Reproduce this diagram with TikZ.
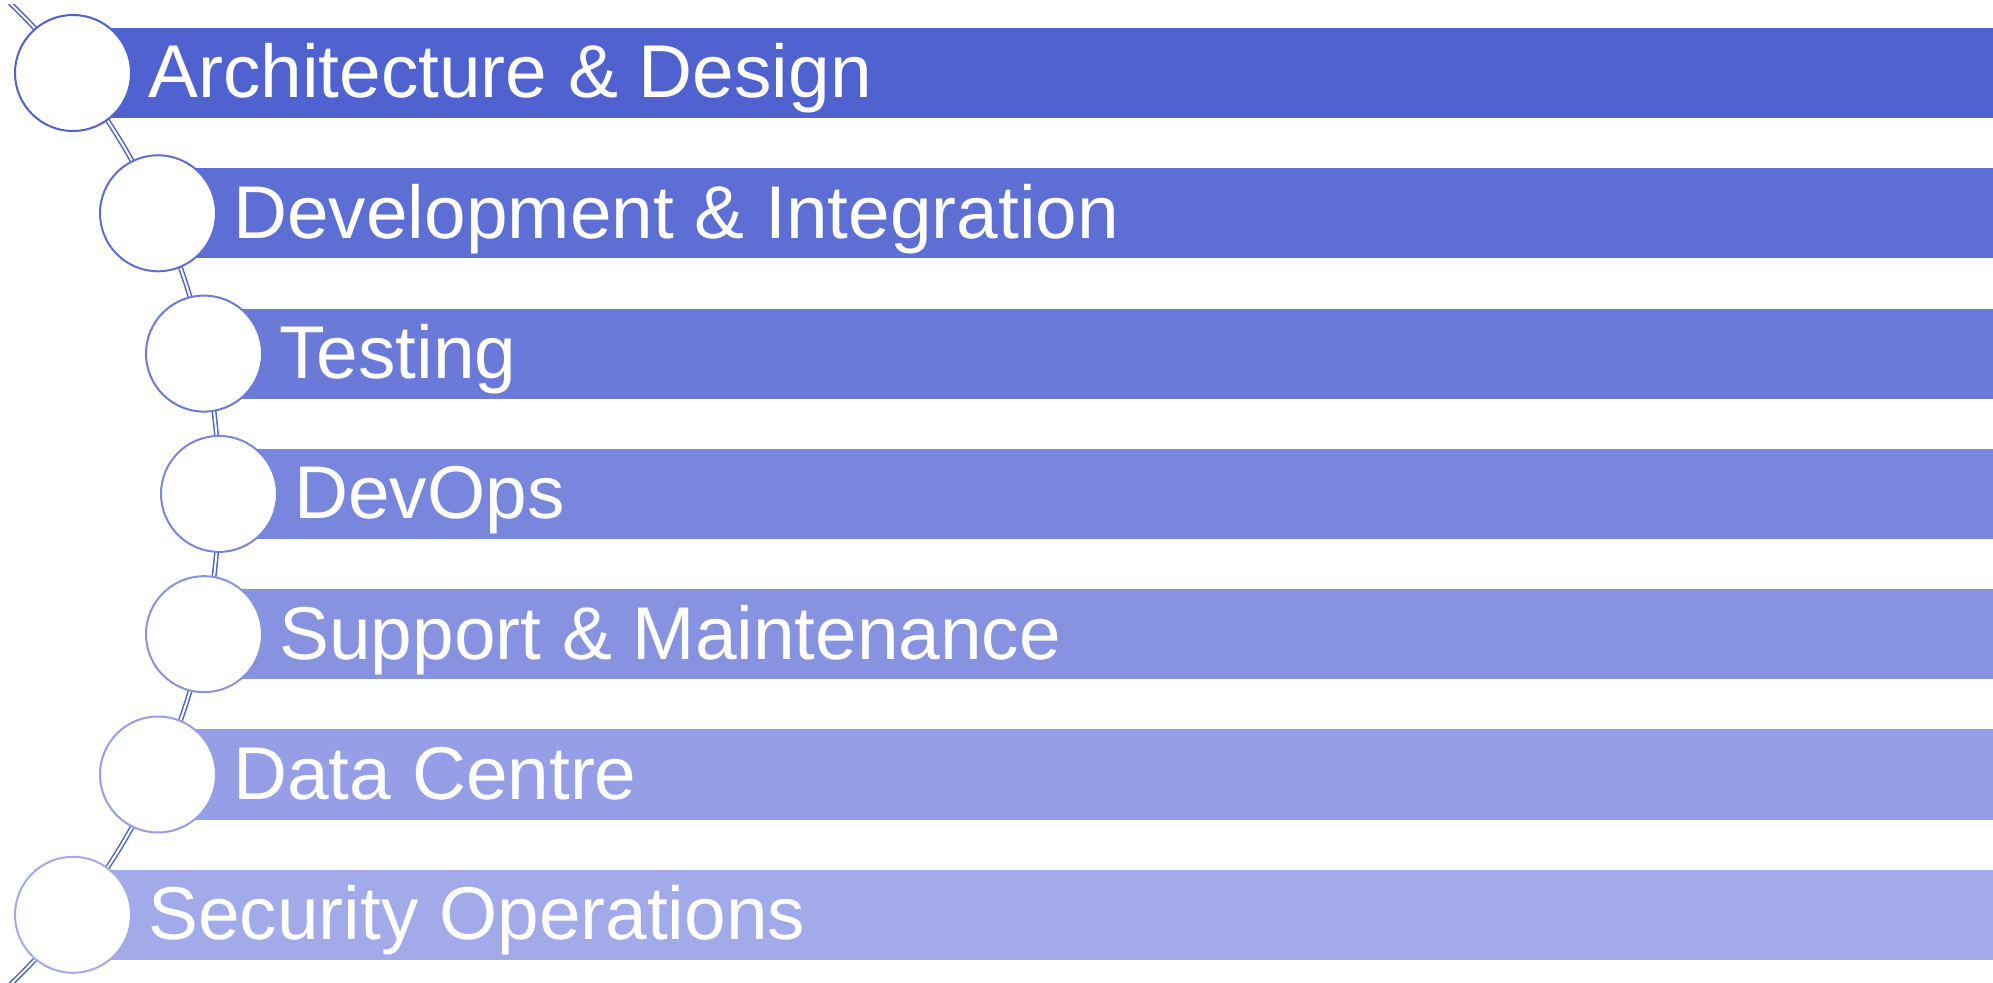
\documentclass[tikz,border=0pt]{standalone}
\usepackage{fontspec}
\setmainfont{Liberation Sans}
\definecolor{stepdark}{RGB}{79,98,207}
\definecolor{steplight}{RGB}{162,170,234}

\begin{document}
\begin{tikzpicture}[x=0.5pt,y=-0.5pt,
    ring/.style={circle,draw,fill=white,line width=1pt,minimum size=58pt,inner sep=0pt},
    steptext/.style={text=white,font=\fontsize{37.4}{40}\selectfont,inner sep=0pt,anchor=base west}]
  \useasboundingbox (0,0) rectangle (1993,983);
  % big arc behind the circles
  \begin{scope}
    \clip (0,5) rectangle (1993,983);
    \draw[stepdark,line width=0.75pt,double=white,double distance=1pt] (-462,494) circle (681);
  \end{scope}
  % one bar, circle and text per row
  \foreach \i/\cx/\name in {1/73/Architecture \& Design,2/158/Development \& Integration,
      3/204/Testing,4/219/DevOps,5/204/Support \& Maintenance,6/158/Data Centre,
      7/73/Security Operations}{
    \pgfmathtruncatemacro\pct{100-100*(\i-1)/6}
    \pgfmathsetmacro\cy{73+140.3*(\i-1)}
    \coordinate (c\i) at (\cx,\cy);
    \fill[stepdark!\pct!steplight] (\cx,\cy-45) rectangle (1993,\cy+45);
    \node[ring,draw=stepdark!\pct!steplight] (ring\i) at (c\i) {};
    \node[steptext] (text\i) at ([xshift=8pt,yshift=-12.5pt]ring\i.east) {\name};
  }
\end{tikzpicture}
\end{document}
